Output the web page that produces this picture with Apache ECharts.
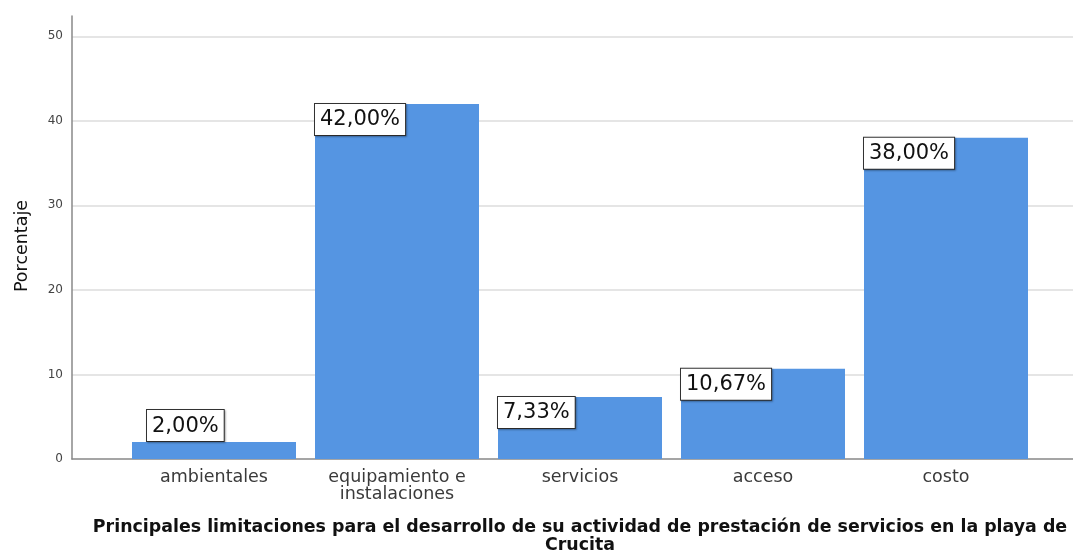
<!DOCTYPE html>
<html>
<head>
<meta charset="utf-8">
<script src="https://cdn.jsdelivr.net/npm/echarts@6/dist/echarts.min.js"></script>
<style>html,body{margin:0;padding:0;background:#fff;}#c{width:1073px;height:554px;}</style>
</head>
<body>
<div id="c"></div>
<script>
var categories = ['ambientales', 'equipamiento e\ninstalaciones', 'servicios', 'acceso', 'costo'];
var values = [2.00, 42.00, 7.33, 10.67, 38.00];
var yTicks = [0, 10, 20, 30, 40, 50];
var yAxisTitle = 'Porcentaje';
var xAxisTitle = 'Principales limitaciones para el desarrollo de su actividad de prestación de servicios en la playa de\nCrucita';

var FONT = '"DejaVu Sans", sans-serif';
var chart = echarts.init(document.getElementById('c'), null, {renderer: 'canvas'});

var labelStyle = {
  show: true,
  position: 'insideTopLeft',
  distance: 0,
  formatter: function (p) { return p.value.toFixed(2).replace('.', ',') + '%'; },
  fontFamily: FONT,
  fontSize: 21,
  lineHeight: 22,
  color: '#111',
  backgroundColor: '#fff',
  borderColor: '#333',
  borderWidth: 1,
  padding: [5, 5, 4, 5],
  shadowColor: 'rgba(0,0,0,0.25)',
  shadowBlur: 2,
  shadowOffsetX: 1,
  shadowOffsetY: 1
};

var data = values.map(function (v, i) {
  var item = {value: v};
  if (i === 0) {
    item.label = {position: [15, -32]};
  }
  return item;
});

var option = {
  animation: false,
  backgroundColor: '#fff',
  grid: [
    {left: 72, right: 0, top: 16, bottom: 95, containLabel: false},
    {left: 122.5, right: 35.5, top: 16, bottom: 95, containLabel: false}
  ],
  xAxis: [
    {
      gridIndex: 0, type: 'value', min: 0, max: 1,
      axisLine: {show: true, onZero: false, lineStyle: {color: '#888', width: 1.5}},
      axisTick: {show: false}, axisLabel: {show: false}, splitLine: {show: false}
    },
    {
      gridIndex: 1, type: 'category', data: categories,
      axisLine: {show: false}, axisTick: {show: false}, splitLine: {show: false},
      axisLabel: {
        interval: 0, margin: 10, fontFamily: FONT, fontSize: 17.5, lineHeight: 17,
        color: '#3a3a3a'
      }
    }
  ],
  yAxis: [
    {
      gridIndex: 0, type: 'value', min: 0, max: 52.4, interval: 10,
      axisLine: {show: true, lineStyle: {color: '#888', width: 1.5}},
      axisTick: {show: false},
      axisLabel: {
        margin: 9, fontFamily: FONT, fontSize: 12, color: '#444', showMaxLabel: false,
        formatter: function (v) { return yTicks.indexOf(v) >= 0 ? String(v) : ''; }
      },
      splitLine: {show: true, showMinLine: false, showMaxLine: false, lineStyle: {color: '#dcdcdc', width: 1.5}}
    },
    {
      gridIndex: 1, type: 'value', min: 0, max: 52.4, interval: 10, show: false,
      splitLine: {show: false}
    }
  ],
  graphic: [
    {
      type: 'text', x: 580, y: 518, silent: true,
      style: {
        text: xAxisTitle, align: 'center', verticalAlign: 'top',
        font: 'bold 17.4px ' + FONT, lineHeight: 18, fill: '#111'
      }
    },
    {
      type: 'text', x: 22, y: 246, rotation: Math.PI / 2, silent: true,
      style: {
        text: yAxisTitle, align: 'center', verticalAlign: 'middle',
        font: '17.5px ' + FONT, fill: '#111'
      }
    }
  ],
  series: [
    {
      type: 'bar', xAxisIndex: 1, yAxisIndex: 1,
      barWidth: 164,
      itemStyle: {color: '#5595e2'},
      label: labelStyle,
      data: data
    }
  ]
};
chart.setOption(option);
</script>
</body>
</html>
